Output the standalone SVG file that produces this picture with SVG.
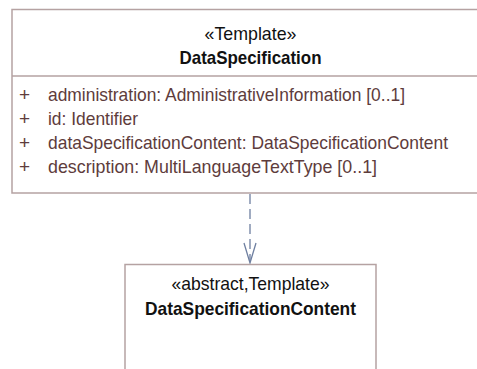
<svg xmlns="http://www.w3.org/2000/svg" width="477" height="369" viewBox="0 0 477 369">
<style>
.box{fill:#fff;stroke:#b5a2a2;stroke-width:1.5}
.st{font-family:"Liberation Sans",Arial,sans-serif;font-size:19px;fill:#111;text-anchor:middle}
.nm{font-family:"Liberation Sans",Arial,sans-serif;font-size:19px;font-weight:bold;fill:#111;text-anchor:middle}
.at{font-family:"Liberation Sans",Arial,sans-serif;font-size:19px;fill:#5e3c3c}
.dep{fill:none;stroke:#6e7fa0;stroke-width:1.3}
</style>
<rect width="477" height="369" fill="#fff"/>
<g id="connectors">
<line class="dep" x1="250" y1="194" x2="250" y2="262" stroke-dasharray="10,5"/>
<polyline class="dep" points="244,243 250,263 256,243"/>
</g>
<g id="DataSpecification">
<rect class="box" x="12" y="9.5" width="480" height="183.5"/>
<line class="box" x1="12" y1="76" x2="477" y2="76"/>
<text class="st" x="250.5" y="40" textLength="92" lengthAdjust="spacingAndGlyphs">«Template»</text>
<text class="nm" x="250.5" y="64" textLength="142" lengthAdjust="spacingAndGlyphs">DataSpecification</text>
<text class="at" x="19" y="101">+</text>
<text class="at" x="48" y="101" textLength="357" lengthAdjust="spacingAndGlyphs">administration: AdministrativeInformation [0..1]</text>
<text class="at" x="19" y="125">+</text>
<text class="at" x="48" y="125" textLength="90" lengthAdjust="spacingAndGlyphs">id: Identifier</text>
<text class="at" x="19" y="149">+</text>
<text class="at" x="48" y="149" textLength="400" lengthAdjust="spacingAndGlyphs">dataSpecificationContent: DataSpecificationContent</text>
<text class="at" x="19" y="173">+</text>
<text class="at" x="48" y="173" textLength="329" lengthAdjust="spacingAndGlyphs">description: MultiLanguageTextType [0..1]</text>
</g>
<g id="DataSpecificationContent">
<rect class="box" x="125" y="264.5" width="251" height="120"/>
<text class="st" x="250.5" y="290" textLength="158" lengthAdjust="spacingAndGlyphs">«abstract,Template»</text>
<text class="nm" x="250.5" y="315" textLength="211" lengthAdjust="spacingAndGlyphs">DataSpecificationContent</text>
</g>
</svg>
